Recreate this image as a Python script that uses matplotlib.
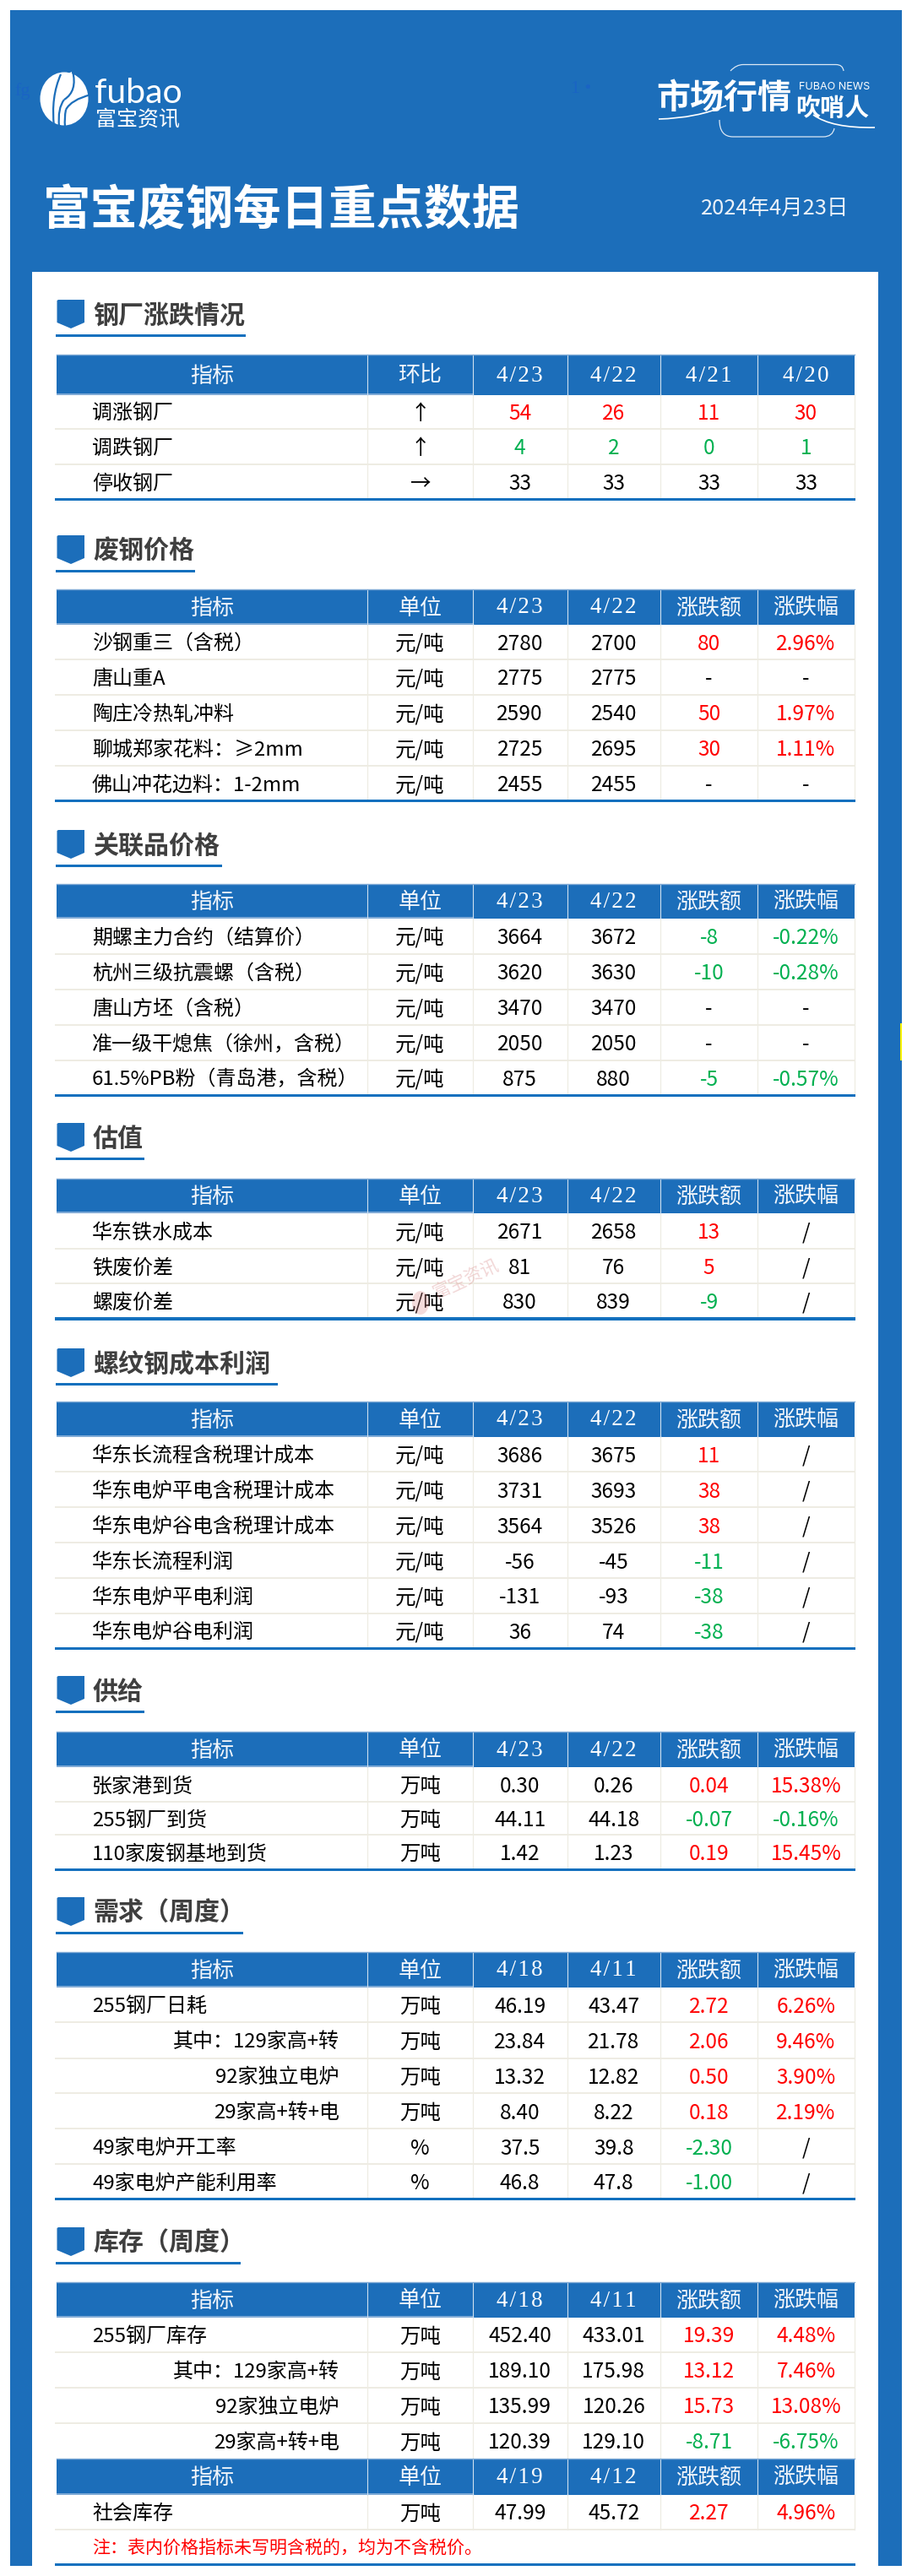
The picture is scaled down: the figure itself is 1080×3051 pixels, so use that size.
import matplotlib
matplotlib.use("Agg")
import matplotlib.pyplot as plt
from matplotlib.patches import Rectangle, Polygon, Ellipse, PathPatch
from matplotlib.path import Path

plt.rcParams['font.family'] = ['Noto Sans CJK SC', 'DejaVu Sans']

BLUE = "#1C6EBA"
LINE_BLUE = "#1270BE"
SEP = "#EEECE3"
RED = "#FF0000"
GREEN = "#00B050"
DARK = "#3F3F3F"

# data
main_title = "富宝废钢每日重点数据"
report_date = "2024年4月23日"
note = "注：表内价格指标未写明含税的，均为不含税价。"

mill_title = "钢厂涨跌情况"
mill_head = ["指标", "环比", "4/23", "4/22", "4/21", "4/20"]
mill_labels = ["调涨钢厂", "调跌钢厂", "停收钢厂"]
mill_trend = ["↑", "↑", "→"]
mill_d1 = ["54", "4", "33"]
mill_d2 = ["26", "2", "33"]
mill_d3 = ["11", "0", "33"]
mill_d4 = ["30", "1", "33"]
mill_colors = [RED, GREEN, "black"]

scrap_title = "废钢价格"
scrap_head = ["指标", "单位", "4/23", "4/22", "涨跌额", "涨跌幅"]
scrap_labels = ["沙钢重三（含税）", "唐山重A", "陶庄冷热轧冲料", "聊城郑家花料：≥2mm", "佛山冲花边料：1-2mm"]
scrap_units = ["元/吨"] * 5
scrap_now = ["2780", "2775", "2590", "2725", "2455"]
scrap_prev = ["2700", "2775", "2540", "2695", "2455"]
scrap_chg = ["80", "-", "50", "30", "-"]
scrap_pct = ["2.96%", "-", "1.97%", "1.11%", "-"]

rel_title = "关联品价格"
rel_head = ["指标", "单位", "4/23", "4/22", "涨跌额", "涨跌幅"]
rel_labels = ["期螺主力合约（结算价）", "杭州三级抗震螺（含税）", "唐山方坯（含税）",
              "准一级干熄焦（徐州，含税）", "61.5%PB粉（青岛港，含税）"]
rel_units = ["元/吨"] * 5
rel_now = ["3664", "3620", "3470", "2050", "875"]
rel_prev = ["3672", "3630", "3470", "2050", "880"]
rel_chg = ["-8", "-10", "-", "-", "-5"]
rel_pct = ["-0.22%", "-0.28%", "-", "-", "-0.57%"]

val_title = "估值"
val_head = ["指标", "单位", "4/23", "4/22", "涨跌额", "涨跌幅"]
val_labels = ["华东铁水成本", "铁废价差", "螺废价差"]
val_units = ["元/吨"] * 3
val_now = ["2671", "81", "830"]
val_prev = ["2658", "76", "839"]
val_chg = ["13", "5", "-9"]
val_pct = ["/", "/", "/"]

cost_title = "螺纹钢成本利润"
cost_head = ["指标", "单位", "4/23", "4/22", "涨跌额", "涨跌幅"]
cost_labels = ["华东长流程含税理计成本", "华东电炉平电含税理计成本", "华东电炉谷电含税理计成本",
               "华东长流程利润", "华东电炉平电利润", "华东电炉谷电利润"]
cost_units = ["元/吨"] * 6
cost_now = ["3686", "3731", "3564", "-56", "-131", "36"]
cost_prev = ["3675", "3693", "3526", "-45", "-93", "74"]
cost_chg = ["11", "38", "38", "-11", "-38", "-38"]
cost_pct = ["/"] * 6

sup_title = "供给"
sup_head = ["指标", "单位", "4/23", "4/22", "涨跌额", "涨跌幅"]
sup_labels = ["张家港到货", "255钢厂到货", "110家废钢基地到货"]
sup_units = ["万吨"] * 3
sup_now = ["0.30", "44.11", "1.42"]
sup_prev = ["0.26", "44.18", "1.23"]
sup_chg = ["0.04", "-0.07", "0.19"]
sup_pct = ["15.38%", "-0.16%", "15.45%"]

dem_title = "需求（周度）"
dem_head = ["指标", "单位", "4/18", "4/11", "涨跌额", "涨跌幅"]
dem_labels = ["255钢厂日耗", ">其中：129家高+转", ">92家独立电炉", ">29家高+转+电", "49家电炉开工率", "49家电炉产能利用率"]
dem_units = ["万吨", "万吨", "万吨", "万吨", "%", "%"]
dem_now = ["46.19", "23.84", "13.32", "8.40", "37.5", "46.8"]
dem_prev = ["43.47", "21.78", "12.82", "8.22", "39.8", "47.8"]
dem_chg = ["2.72", "2.06", "0.50", "0.18", "-2.30", "-1.00"]
dem_pct = ["6.26%", "9.46%", "3.90%", "2.19%", "/", "/"]

inv_title = "库存（周度）"
inv_head = ["指标", "单位", "4/18", "4/11", "涨跌额", "涨跌幅"]
inv_labels = ["255钢厂库存", ">其中：129家高+转", ">92家独立电炉", ">29家高+转+电"]
inv_units = ["万吨"] * 4
inv_now = ["452.40", "189.10", "135.99", "120.39"]
inv_prev = ["433.01", "175.98", "120.26", "129.10"]
inv_chg = ["19.39", "13.12", "15.73", "-8.71"]
inv_pct = ["4.48%", "7.46%", "13.08%", "-6.75%"]

soc_head = ["指标", "单位", "4/19", "4/12", "涨跌额", "涨跌幅"]
soc_labels = ["社会库存"]
soc_units = ["万吨"]
soc_now = ["47.99"]
soc_prev = ["45.72"]
soc_chg = ["2.27"]
soc_pct = ["4.96%"]

# layout, in pixels of the 1080x3051 canvas
col_edges = [66.8, 435, 560, 671.5, 782, 897, 1011.7]

fig = plt.figure(figsize=(10.8, 30.51), dpi=100)
ax = fig.add_axes([0, 0, 1, 1])
ax.set_xlim(0, 1080)
ax.set_ylim(3051, 0)
ax.axis("off")


def px(size):
    return size * 0.72


def box(x0, y0, x1, y1, color, z=1):
    ax.add_patch(Rectangle((x0, y0), x1 - x0, y1 - y0, fc=color, ec="none", zorder=z))


def section(title, top, under_end):
    ax.add_patch(Polygon([(67.5, top + 1), (69, top), (100, top), (100, top + 27),
                          (84, top + 34), (67.5, top + 27)], fc=BLUE, ec="none", zorder=3))
    ax.text(110, top + 19, title, fontsize=px(30), fontweight="bold", color=DARK,
            ha="left", va="center", zorder=4)
    box(66, top + 41, under_end, top + 44, LINE_BLUE, 3)


def header(head, y0, y1):
    box(col_edges[0], y0, col_edges[-1], y1 + 1.5, BLUE, 2)
    box(col_edges[0], y1, col_edges[2], y1 + 2, "#7FAAD6", 3)
    for x in col_edges[1:-1]:
        ax.plot([x, x], [y0, y1 + 1.5], color="#CFE0F0", lw=0.8, zorder=3)
    ax.plot([col_edges[0], col_edges[-1]], [y0, y0], color="#7FAAD6", lw=1, zorder=3)
    for i, name in enumerate(head):
        cx = (col_edges[i] + col_edges[i + 1]) / 2
        if "/" in name:
            spaced = "\u200a".join(name)
            ax.text(cx, (y0 + y1) / 2 + 2, spaced, color="white", fontsize=px(27), ha="center", va="center",
                    family=["Liberation Serif", "DejaVu Sans"], zorder=4)
        else:
            ax.text(cx, (y0 + y1) / 2 + 2, name, color="#F2F6FB", fontsize=px(26), ha="center", va="center", zorder=4)


def value_color(s):
    if s in ("-", "/"):
        return "black"
    return GREEN if s.startswith("-") else RED


def cell(i, yc, s, color="black"):
    cx = (col_edges[i] + col_edges[i + 1]) / 2
    ax.text(cx, yc, s, color=color, fontsize=px(24.5), ha="center", va="center", zorder=4)


def body(labels, cols, colors, edges, end_line=True):
    for r, label in enumerate(labels):
        yc = (edges[r] + edges[r + 1]) / 2 + 2.5
        if label.startswith(">"):
            ax.text(402, yc, label[1:], fontsize=px(24), ha="right", va="center", zorder=4)
        else:
            ax.text(109, yc, label, fontsize=px(24), ha="left", va="center", zorder=4)
        for c, vals in enumerate(cols):
            col = colors[c](vals[r], r)
            cell(c + 1, yc, vals[r], col)
    for y in edges[1:-1]:
        box(65, y - 1, 1013, y + 1, SEP, 2)
    for x in col_edges[1:]:
        ax.plot([x, x], [edges[0], edges[-1]], color=SEP, lw=0.9, zorder=2)
    if end_line:
        box(65, edges[-1] - 1.5, 1013, edges[-1] + 2, LINE_BLUE, 3)


plain = lambda s, r: "black"
signed = lambda s, r: value_color(s)
std_colors = [plain, plain, plain, signed, signed]
mill_color = lambda s, r: mill_colors[r]

# background
box(12, 12, 1068, 3039, BLUE, 0)
box(38, 322, 1040, 3039, "white", 1)
box(1066, 1212, 1068, 1256, "#FFF200", 1)

# left logo
leaf = Ellipse((76, 117), 57, 63, fc="white", ec="none", zorder=3)
ax.add_patch(leaf)
ax.add_patch(Polygon([(62, 96), (85, 85), (87, 110), (66, 125)], fc="white", ec="none", zorder=3))
ax.add_patch(Polygon([(90, 94), (92, 92), (93, 110), (88, 112)], fc="white", ec="none", zorder=3))
for verts in [[(72, 88), (60, 115), (64, 150)],
              [(86, 84), (92, 108), (76, 118)],
              [(76, 118), (68, 128), (70, 150)],
              [(108, 112), (84, 118), (78, 130)],
              [(78, 130), (76, 140), (77, 150)]]:
    patch = PathPatch(Path(verts, [Path.MOVETO, Path.CURVE3, Path.CURVE3]), fc="none", ec=BLUE, lw=1.6, zorder=4)
    ax.add_patch(patch)
ax.text(112, 110, "fubao", color="white", fontsize=px(41), family=["Lato", "DejaVu Sans"],
        ha="left", va="center", zorder=4)
ax.text(113, 141, "富宝资讯", color="white", fontsize=px(25), ha="left", va="center", zorder=4)
ax.text(17, 108, "fg", color="#1A64C4", fontsize=px(22), family=["Liberation Serif", "DejaVu Sans"],
        ha="left", va="center", zorder=2)
ax.text(676, 105, "1 •", color="#1A64C4", fontsize=px(22), family=["Liberation Serif", "DejaVu Sans"],
        ha="left", va="center", zorder=2)

# right logo
ax.text(777, 116, "市场行情", color="white", fontsize=px(40), fontweight="bold", ha="left", va="center", zorder=4)
ax.text(946, 102.5, "FUBAO NEWS", color="white", fontsize=px(12.5), family=["Inter", "DejaVu Sans"],
        ha="left", va="center", zorder=4)
ax.text(942, 128, "吹哨人", color="white", fontsize=px(29), fontweight="bold", style="italic",
        ha="left", va="center", zorder=4)
ax.add_patch(PathPatch(Path([(865, 84), (872, 76.5), (880, 76.5), (990, 76.5), (998, 76.5), (999, 84)],
                            [Path.MOVETO, Path.CURVE3, Path.CURVE3, Path.LINETO, Path.CURVE3, Path.CURVE3]),
                       fc="none", ec="#DCE8F4", lw=0.9, zorder=4))
ax.add_patch(PathPatch(Path([(852, 142), (852, 162), (868, 162), (975, 162), (986, 162), (988, 152)],
                            [Path.MOVETO, Path.CURVE3, Path.CURVE3, Path.LINETO, Path.CURVE3, Path.CURVE3]),
                       fc="none", ec="#DCE8F4", lw=0.9, zorder=4))
ax.add_patch(PathPatch(Path([(780, 141), (825, 140), (860, 125)], [Path.MOVETO, Path.CURVE3, Path.CURVE3]),
                       fc="none", ec="white", lw=1.2, zorder=4))
ax.add_patch(PathPatch(Path([(963, 136), (985, 152), (1036, 151)], [Path.MOVETO, Path.CURVE3, Path.CURVE3]),
                       fc="none", ec="white", lw=1.2, zorder=4))

# title band
ax.text(51, 249, main_title, color="white", fontsize=px(56.5), fontweight="bold", ha="left", va="center", zorder=4)
ax.text(830, 247, report_date, color="#EAF1F8", fontsize=px(25.5), ha="left", va="center", zorder=4)

# tables
section(mill_title, 355, 291)
header(mill_head, 420, 466)
body(mill_labels, [mill_trend, mill_d1, mill_d2, mill_d3, mill_d4],
     [plain, mill_color, mill_color, mill_color, mill_color], [466.5, 508, 550, 591])

section(scrap_title, 634, 231)
header(scrap_head, 698, 738)
body(scrap_labels, [scrap_units, scrap_now, scrap_prev, scrap_chg, scrap_pct], std_colors,
     [739.4, 780.7, 823, 864.7, 907, 948])

section(rel_title, 983, 263)
header(rel_head, 1047, 1086)
body(rel_labels, [rel_units, rel_now, rel_prev, rel_chg, rel_pct], std_colors,
     [1087.4, 1129.6, 1172, 1213.7, 1256, 1297])

section(val_title, 1330, 171)
header(val_head, 1395.5, 1435)
body(val_labels, [val_units, val_now, val_prev, val_chg, val_pct], std_colors,
     [1436.7, 1478.8, 1520.4, 1561.6])

section(cost_title, 1597, 328.5)
header(cost_head, 1660, 1700)
body(cost_labels, [cost_units, cost_now, cost_prev, cost_chg, cost_pct], std_colors,
     [1701, 1743, 1785, 1827, 1869, 1910.6, 1952])

section(sup_title, 1985, 171)
header(sup_head, 2051, 2091)
body(sup_labels, [sup_units, sup_now, sup_prev, sup_chg, sup_pct], std_colors,
     [2092.5, 2134, 2173, 2214])

section(dem_title, 2247, 288)
header(dem_head, 2312, 2352)
body(dem_labels, [dem_units, dem_now, dem_prev, dem_chg, dem_pct], std_colors,
     [2353.6, 2395, 2437.5, 2479, 2521.4, 2563, 2604])

section(inv_title, 2638, 285)
header(inv_head, 2703, 2743)
body(inv_labels, [inv_units, inv_now, inv_prev, inv_chg, inv_pct], std_colors,
     [2744, 2786, 2828, 2870, 2912], end_line=False)
header(soc_head, 2912, 2953)
body(soc_labels, [soc_units, soc_now, soc_prev, soc_chg, soc_pct], std_colors, [2954, 2996], end_line=False)
box(65, 2995, 1013, 2997, SEP, 2)
ax.text(109, 3019, note, color=RED, fontsize=px(21), ha="left", va="center", zorder=4)
box(65, 3035.5, 1013, 3039, LINE_BLUE, 3)

# watermark
ax.text(552, 1516, "富宝资讯", color="#D98A8A", alpha=0.35, fontsize=px(21), rotation=25,
        ha="center", va="center", zorder=5)
ax.add_patch(Ellipse((498, 1543), 20, 28, fc="#D98A8A", ec="none", alpha=0.3, zorder=5))

fig.savefig("out.png", dpi=100)
